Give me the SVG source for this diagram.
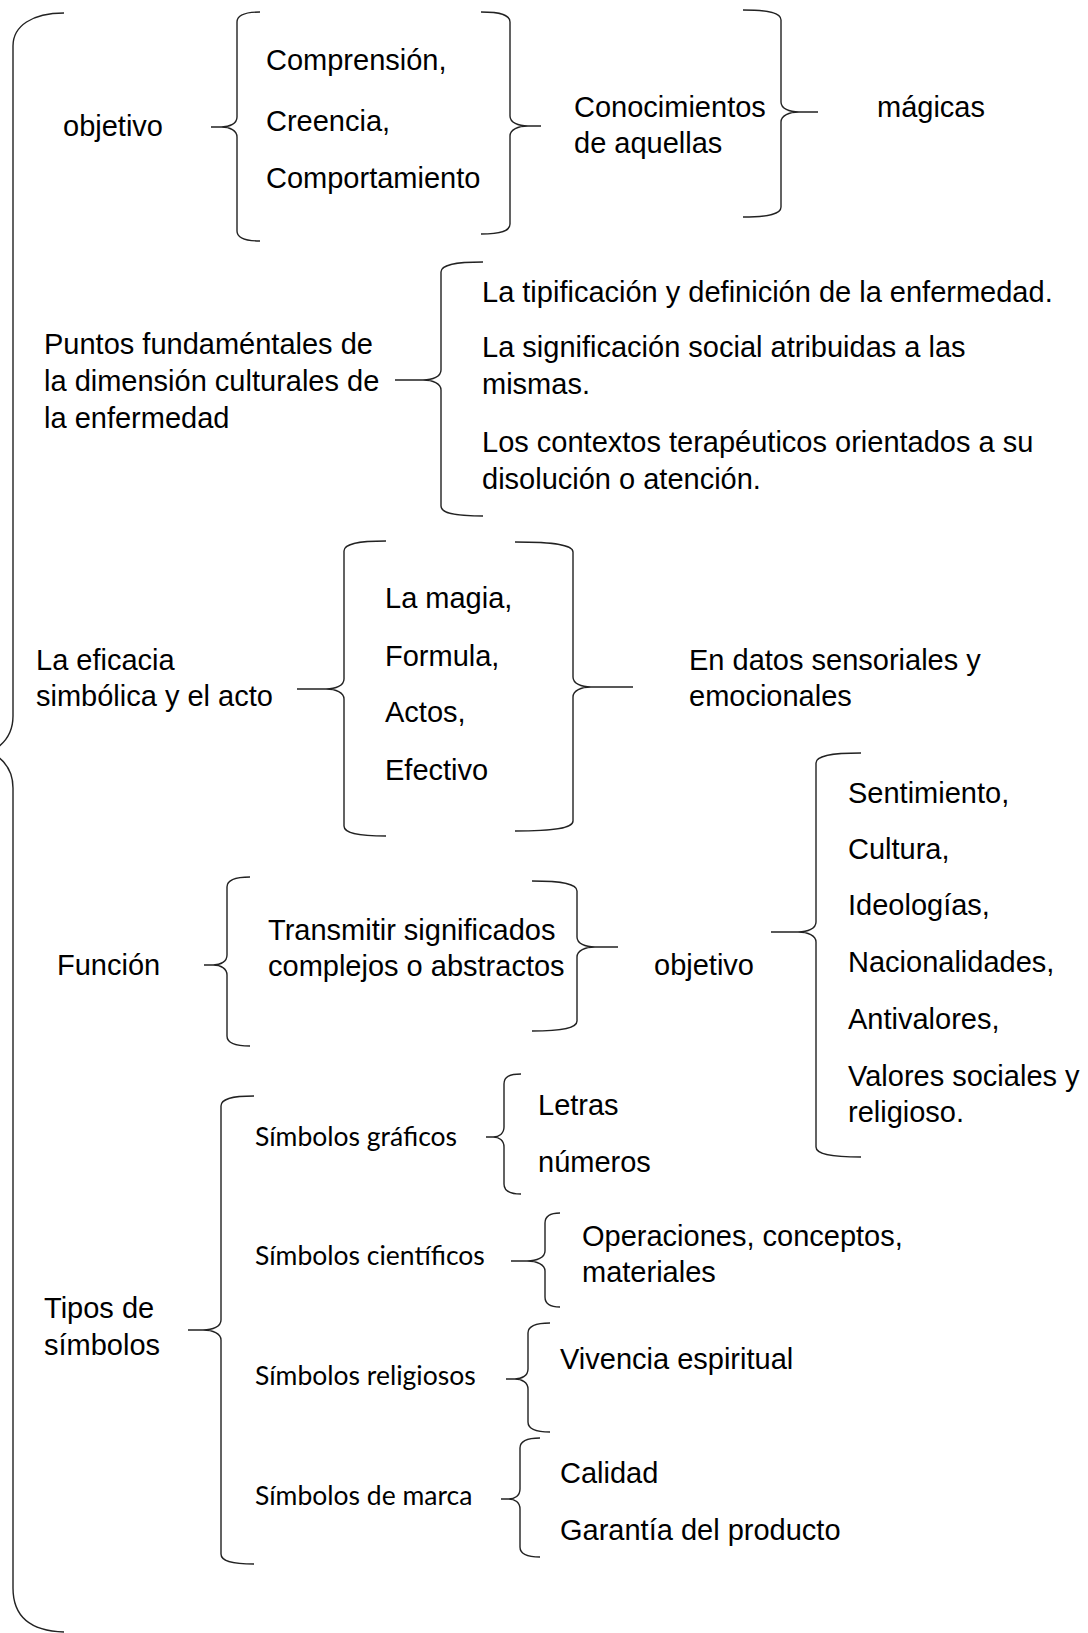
<svg xmlns="http://www.w3.org/2000/svg" width="1088" height="1633" viewBox="0 0 1088 1633">
<style>
.t{font-family:"Liberation Sans",Arial,sans-serif;font-size:29px;fill:#000}
.c{font-family:Lato,"Open Sans",sans-serif;font-size:26.5px;fill:#000}
.br{fill:none;stroke:#222;stroke-width:1.4}
</style>
<rect width="1088" height="1633" fill="#fff"/>
<g id="connectors" class="br">
<path id="big-brace" d="M64,13 C32,13 13,26 13,46 L13,716 C13,735 2,746 -10,752 M-10,752 C2,758 13,769 13,788 L13,1588 C13,1616 30,1631 64,1632"/>
<path id="brace-a" d="M260,12 C244,12 237,15 237,22 L237,117 C237,123.5 230,127 221.4,127 L211,127 M221.4,127 C230,127 237,130.5 237,137 L237,231 C237,238 244,241 260,241"/>
<path id="brace-b" d="M481,12 C501.3,12 510,15 510,22 L510,116 C510,122.5 518.1,126 528,126 L541,126 M528,126 C518.1,126 510,129.5 510,136 L510,224 C510,231 501.3,234 481,234"/>
<path id="brace-c" d="M743,10 C769.6,10 781,13 781,20 L781,102 C781,108.5 789.1,112 799,112 L818,112 M799,112 C789.1,112 781,115.5 781,122 L781,207 C781,214 769.6,217 743,217"/>
<path id="brace-d" d="M483,262 C453.6,262 441,265 441,272 L441,370 C441,376.5 432.9,380 423,380 L395,380 M423,380 C432.9,380 441,383.5 441,390 L441,506 C441,513 453.6,516 483,516"/>
<path id="brace-e" d="M386,541 C356.6,541 344,544 344,551 L344,679 C344,685.5 335.9,689 326,689 L297,689 M326,689 C335.9,689 344,692.5 344,699 L344,826 C344,833 356.6,836 386,836"/>
<path id="brace-f" d="M515,542 C555.6,542 573,545 573,552 L573,677 C573,683.5 581.1,687 591,687 L633,687 M591,687 C581.1,687 573,690.5 573,697 L573,821 C573,828 555.6,831 515,831"/>
<path id="brace-g" d="M250,877 C233.9,877 227,880 227,887 L227,955 C227,961.5 220.8,965 213.2,965 L204,965 M213.2,965 C220.8,965 227,968.5 227,975 L227,1036 C227,1043 233.9,1046 250,1046"/>
<path id="brace-h" d="M532,881 C563.5,881 577,884 577,891 L577,937 C577,943.5 585.1,947 595,947 L618,947 M595,947 C585.1,947 577,950.5 577,957 L577,1021 C577,1028 563.5,1031 532,1031"/>
<path id="brace-i" d="M861,753 C829.5,753 816,756 816,763 L816,922 C816,928.5 807.9,932 798,932 L771,932 M798,932 C807.9,932 816,935.5 816,942 L816,1147 C816,1154 829.5,1157 861,1157"/>
<path id="brace-j" d="M254,1096 C230.9,1096 221,1099 221,1106 L221,1320 C221,1326.5 212.9,1330 203,1330 L188,1330 M203,1330 C212.9,1330 221,1333.5 221,1340 L221,1554 C221,1561 230.9,1564 254,1564"/>
<path id="brace-k" d="M521,1074 C509.1,1074 504,1077 504,1084 L504,1127 C504,1133.5 499.1,1137 493.2,1137 L486,1137 M493.2,1137 C499.1,1137 504,1140.5 504,1147 L504,1184 C504,1191 509.1,1194 521,1194"/>
<path id="brace-l" d="M560,1213 C549.5,1213 545,1216 545,1223 L545,1251 C545,1257.5 536.9,1261 527,1261 L511,1261 M527,1261 C536.9,1261 545,1264.5 545,1271 L545,1297 C545,1304 549.5,1307 560,1307"/>
<path id="brace-m" d="M550,1323 C534.6,1323 528,1326 528,1333 L528,1369 C528,1375.5 522.1,1379 514.8,1379 L506,1379 M514.8,1379 C522.1,1379 528,1382.5 528,1389 L528,1422 C528,1429 534.6,1432 550,1432"/>
<path id="brace-n" d="M540,1438 C526,1438 520,1441 520,1448 L520,1489 C520,1495.5 514.9,1499 508.6,1499 L501,1499 M508.6,1499 C514.9,1499 520,1502.5 520,1509 L520,1547 C520,1554 526,1557 540,1557"/>
</g>
<g id="n-objetivo1"><text class="t" x="63" y="136">objetivo</text></g>
<g id="n-comprension">
<text class="t" x="266" y="70">Comprensión,</text>
<text class="t" x="266" y="131">Creencia,</text>
<text class="t" x="266" y="188">Comportamiento</text>
</g>
<g id="n-conocimientos">
<text class="t" x="574" y="117">Conocimientos</text>
<text class="t" x="574" y="153">de aquellas</text>
</g>
<g id="n-magicas"><text class="t" x="877" y="117">mágicas</text></g>
<g id="n-puntos">
<text class="t" x="44" y="354">Puntos fundaméntales de</text>
<text class="t" x="44" y="391">la dimensión culturales de</text>
<text class="t" x="44" y="428">la enfermedad</text>
</g>
<g id="n-tipificacion">
<text class="t" x="482" y="302">La tipificación y definición de la enfermedad.</text>
<text class="t" x="482" y="357">La significación social atribuidas a las</text>
<text class="t" x="482" y="394">mismas.</text>
<text class="t" x="482" y="452">Los contextos terapéuticos orientados a su</text>
<text class="t" x="482" y="489">disolución o atención.</text>
</g>
<g id="n-eficacia">
<text class="t" x="36" y="670">La eficacia</text>
<text class="t" x="36" y="706">simbólica y el acto</text>
</g>
<g id="n-magia">
<text class="t" x="385" y="608">La magia,</text>
<text class="t" x="385" y="666">Formula,</text>
<text class="t" x="385" y="722">Actos,</text>
<text class="t" x="385" y="780">Efectivo</text>
</g>
<g id="n-datos">
<text class="t" x="689" y="670">En datos sensoriales y</text>
<text class="t" x="689" y="706">emocionales</text>
</g>
<g id="n-funcion"><text class="t" x="57" y="975">Función</text></g>
<g id="n-transmitir">
<text class="t" x="268" y="940">Transmitir significados</text>
<text class="t" x="268" y="976">complejos o abstractos</text>
</g>
<g id="n-objetivo2"><text class="t" x="654" y="975">objetivo</text></g>
<g id="n-sentimiento">
<text class="t" x="848" y="803">Sentimiento,</text>
<text class="t" x="848" y="859">Cultura,</text>
<text class="t" x="848" y="915">Ideologías,</text>
<text class="t" x="848" y="972">Nacionalidades,</text>
<text class="t" x="848" y="1029">Antivalores,</text>
<text class="t" x="848" y="1086">Valores sociales y</text>
<text class="t" x="848" y="1122">religioso.</text>
</g>
<g id="n-tipos">
<text class="t" x="44" y="1318">Tipos de</text>
<text class="t" x="44" y="1355">símbolos</text>
</g>
<g id="n-graficos"><text class="c" x="255" y="1146">Símbolos gráficos</text></g>
<g id="n-letras">
<text class="t" x="538" y="1115">Letras</text>
<text class="t" x="538" y="1172">números</text>
</g>
<g id="n-cientificos"><text class="c" x="255" y="1265">Símbolos científicos</text></g>
<g id="n-operaciones">
<text class="t" x="582" y="1246">Operaciones, conceptos,</text>
<text class="t" x="582" y="1282">materiales</text>
</g>
<g id="n-religiosos"><text class="c" x="255" y="1385">Símbolos religiosos</text></g>
<g id="n-vivencia"><text class="t" x="560" y="1369">Vivencia espiritual</text></g>
<g id="n-marca"><text class="c" x="255" y="1505">Símbolos de marca</text></g>
<g id="n-calidad">
<text class="t" x="560" y="1483">Calidad</text>
<text class="t" x="560" y="1540">Garantía del producto</text>
</g>
</svg>
